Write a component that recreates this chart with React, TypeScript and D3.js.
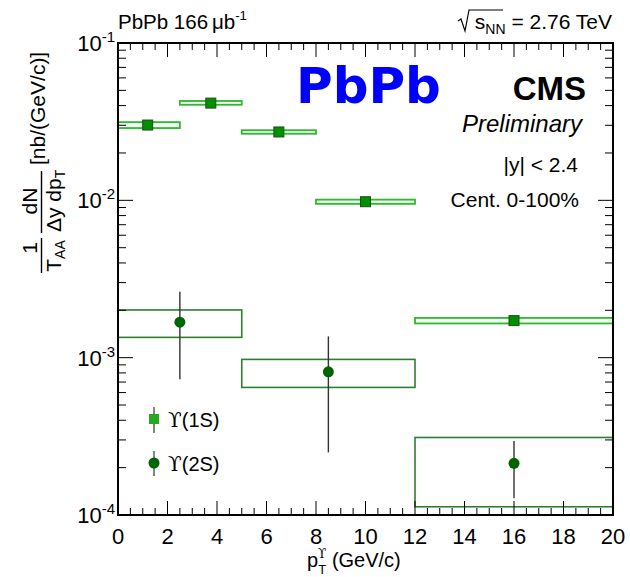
import React from "react";
import * as d3 from "d3";

// ---- data ----
const binLo1S = [0, 2.5, 5, 8, 12];
const binHi1S = [2.5, 5, 8, 12, 20];
const pt1S = [1.2, 3.75, 6.5, 10, 16];
const val1S = [0.0301, 0.0415, 0.0272, 0.0098, 0.00172];
const sysHi1S = [0.0314, 0.0428, 0.0279, 0.0101, 0.00179];
const sysLo1S = [0.0288, 0.0405, 0.0265, 0.0095, 0.00165];

const binLo2S = [0, 5, 12];
const binHi2S = [5, 12, 20];
const pt2S = [2.5, 8.5, 16];
const val2S = [0.00168, 0.000813, 0.000213];
const sysHi2S = [0.00201, 0.000975, 0.000311];
const sysLo2S = [0.001346, 0.000647, 0.0001128];
const statHi2S = [0.00262, 0.001365, 0.000295];
const statLo2S = [0.000728, 0.00025, 0.0001277];

const xTickLabels = [0, 2, 4, 6, 8, 10, 12, 14, 16, 18, 20];
const yDecades = [-4, -3, -2, -1];

const W = 630, H = 577;
const L = 118, R = 613, T = 43, B = 515;

export default function App() {
  const x = d3.scaleLinear().domain([0, 20]).range([L, R]);
  const y = d3.scaleLog().domain([1e-4, 1e-1]).range([B, T]);

  const xMinor = d3.range(0, 20.001, 0.5);
  const yMinor: number[] = [];
  for (let e = -4; e < -1; e++) for (let m = 2; m <= 9; m++) yMinor.push(m * Math.pow(10, e));

  const font = "'Liberation Sans', Arial, Helvetica, sans-serif";
  const green1 = "#2db82d";
  const green2 = "#2f7d2f";

  return (
    <svg width={W} height={H} style={{ position: "absolute", left: 0, top: 0, background: "#fff" }} fontFamily={font}>
      <rect x={0} y={0} width={W} height={H} fill="#fff" />

      {/* 2S systematic boxes */}
      {val2S.map((v, i) => (
        <rect key={"b2" + i} x={x(binLo2S[i])} y={y(sysHi2S[i])} width={x(binHi2S[i]) - x(binLo2S[i])}
          height={y(sysLo2S[i]) - y(sysHi2S[i])} fill="none" stroke={green2} strokeWidth={1.6} />
      ))}
      {/* 1S systematic boxes */}
      {val1S.map((v, i) => (
        <rect key={"b1" + i} x={x(binLo1S[i])} y={y(sysHi1S[i])} width={x(binHi1S[i]) - x(binLo1S[i])}
          height={y(sysLo1S[i]) - y(sysHi1S[i])} fill="#f4fbf4" stroke={green1} strokeWidth={1.8} />
      ))}
      {/* 2S stat errors */}
      {val2S.map((v, i) => (
        <line key={"e2" + i} x1={x(pt2S[i])} x2={x(pt2S[i])} y1={y(statHi2S[i])} y2={y(statLo2S[i])}
          stroke="#333" strokeWidth={1.4} />
      ))}
      {/* 1S markers */}
      {val1S.map((v, i) => (
        <rect key={"m1" + i} x={x(pt1S[i]) - 5} y={y(v) - 5} width={10} height={10}
          fill="#009000" stroke="#1f4d1f" strokeWidth={1} />
      ))}
      {/* 2S markers */}
      {val2S.map((v, i) => (
        <circle key={"m2" + i} cx={x(pt2S[i])} cy={y(v)} r={5.5} fill="#006400" />
      ))}

      {/* frame */}
      <rect x={L} y={T} width={R - L} height={B - T} fill="none" stroke="#000" strokeWidth={2} />
      {/* x ticks */}
      {xMinor.map((t, i) => {
        const major = Math.abs(t / 2 - Math.round(t / 2)) < 1e-6;
        const len = major ? 14 : 7;
        return (
          <g key={"xt" + i} stroke="#000" strokeWidth={1}>
            <line x1={x(t)} x2={x(t)} y1={B} y2={B - len} />
            <line x1={x(t)} x2={x(t)} y1={T} y2={T + len} />
          </g>
        );
      })}
      {/* y ticks */}
      {yDecades.map((e) => (
        <g key={"yM" + e} stroke="#000" strokeWidth={1}>
          <line x1={L} x2={L + 15} y1={y(Math.pow(10, e))} y2={y(Math.pow(10, e))} />
          <line x1={R} x2={R - 15} y1={y(Math.pow(10, e))} y2={y(Math.pow(10, e))} />
        </g>
      ))}
      {yMinor.map((t, i) => (
        <g key={"ym" + i} stroke="#000" strokeWidth={1}>
          <line x1={L} x2={L + 8} y1={y(t)} y2={y(t)} />
          <line x1={R} x2={R - 8} y1={y(t)} y2={y(t)} />
        </g>
      ))}

      {/* x tick labels */}
      {xTickLabels.map((t) => (
        <text key={"xl" + t} x={x(t)} y={544} fontSize={22} textAnchor="middle" fill="#000">{t}</text>
      ))}
      {/* y tick labels */}
      {yDecades.map((e) => (
        <text key={"yl" + e} x={115} y={y(Math.pow(10, e)) + 8} fontSize={22} textAnchor="end" fill="#000">
          10<tspan fontSize={15} dy={-9}>{e}</tspan>
        </text>
      ))}

      {/* x title */}
      <text x={307} y={567} fontSize={20} fill="#000">
        p<tspan fontSize={13} dy={7} dx={0}>T</tspan>
        <tspan fontSize={12} dx={-8} dy={-16} fontFamily="'DejaVu Serif', serif">ϒ</tspan>
        <tspan dy={9} fontSize={20}> (GeV/c)</tspan>
      </text>

      {/* y title (rotated) */}
      <g transform="rotate(-90)" fill="#000" fontSize={21}>
        <text x={-248} y={37} textAnchor="middle">1</text>
        <line x1={-273} x2={-238} y1={41.5} y2={41.5} stroke="#000" strokeWidth={1.4} />
        <text x={-256} y={61} textAnchor="middle">T<tspan fontSize={14} dy={4}>AA</tspan></text>
        <text x={-201} y={37} textAnchor="middle">dN</text>
        <line x1={-233} x2={-171} y1={41.5} y2={41.5} stroke="#000" strokeWidth={1.4} />
        <text x={-232} y={61}>Δy dp<tspan fontSize={14} dy={4}>T</tspan></text>
        <text x={-165} y={45}>[nb/(GeV/c)]</text>
      </g>

      {/* header */}
      <text x={118} y={29} fontSize={20.5} fill="#000">
        PbPb 166<tspan dx={4}>μb</tspan><tspan fontSize={13} dy={-9}>-1</tspan>
      </text>
      <g fill="#000">
        <path d="M458,21 L461,19 L465,31 L469,10 L503,10" fill="none" stroke="#000" strokeWidth={1.2} />
        <text x={612} y={29} fontSize={21} textAnchor="end">
          s<tspan fontSize={14} dy={5}>NN</tspan><tspan dy={-5}> = 2.76 TeV</tspan>
        </text>
      </g>

      {/* big PbPb */}
      <text x={296} y={103} fontSize={50} fontWeight="bold" fill="#0000ff" fontFamily="'DejaVu Sans', sans-serif">PbPb</text>
      <text x={586} y={100} fontSize={33} fontWeight="bold" textAnchor="end" fill="#000">CMS</text>
      <text x={582} y={132} fontSize={24} fontStyle="italic" textAnchor="end" fill="#000">Preliminary</text>
      <text x={578} y={172} fontSize={21} textAnchor="end" fill="#000">|y| &lt; 2.4</text>
      <text x={579} y={207} fontSize={21} textAnchor="end" fill="#000">Cent. 0-100%</text>

      {/* legend */}
      <line x1={154} x2={154} y1={407} y2={433} stroke="#333" strokeWidth={1.2} />
      <rect x={149} y={414} width={10} height={10} fill="#22aa22" />
      <text x={168} y={427} fontSize={20} fill="#000">
        <tspan fontFamily="'DejaVu Serif', serif">ϒ</tspan>(1S)
      </text>
      <line x1={154} x2={154} y1={451} y2={476} stroke="#333" strokeWidth={1.2} />
      <circle cx={154} cy={463} r={5.5} fill="#006400" />
      <text x={168} y={471} fontSize={20} fill="#000">
        <tspan fontFamily="'DejaVu Serif', serif">ϒ</tspan>(2S)
      </text>
    </svg>
  );
}
